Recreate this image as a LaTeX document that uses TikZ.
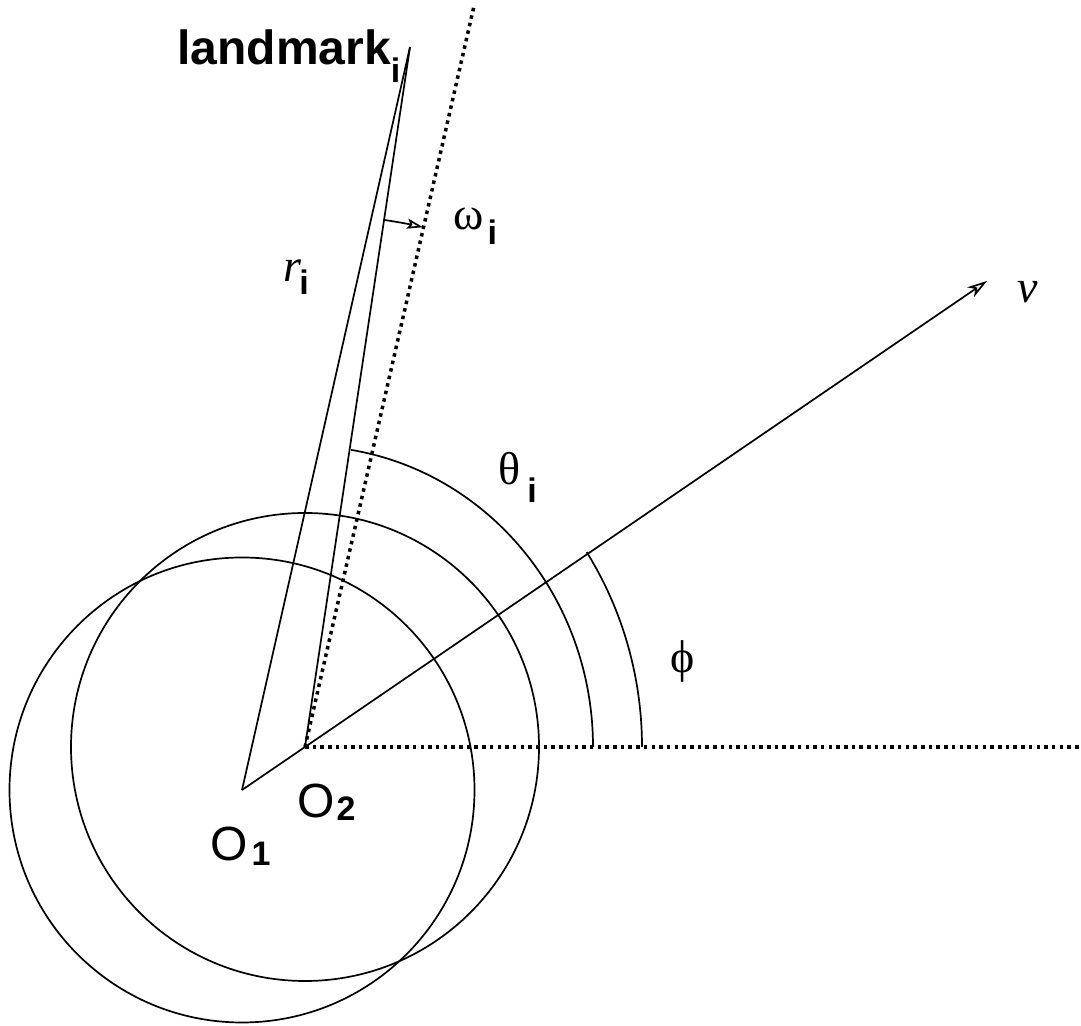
\documentclass[tikz,border=0pt]{standalone}
\usepackage{fontspec}
\setmainfont{Liberation Sans}
\newfontfamily\tmsfont{Liberation Serif}
\usetikzlibrary{arrows.meta}

\newcommand{\lsub}[2]{\raisebox{-#1}{\normalfont\fontsize{17pt}{20pt}\selectfont\bfseries #2}}

\begin{document}
\begin{tikzpicture}[
	x=0.5pt, y=0.5pt,
	line/.style={ line width=0.85pt },
	dotline/.style={ line width=1.75pt, dash pattern=on 1.75pt off 2.1pt },
	lbl/.style={ anchor=base west, inner sep=0pt, font=\fontsize{24pt}{28pt}\selectfont },
	glbl/.style={ anchor=base west, inner sep=0pt, font=\fontsize{23pt}{27pt}\selectfont\tmsfont },
	tipv/.style={ -{Stealth[open,length=10pt,width=6pt,inset=3pt]} },
	tipw/.style={ -{Stealth[open,length=8pt,width=5pt,inset=1.5pt]} }
]
\useasboundingbox (0,0) rectangle (1081,1026);

\coordinate (oone) at (242,236);
\coordinate (otwo) at (305,279);
\coordinate (mark) at (410,979);
\coordinate (dotend) at (474,1020);
\coordinate (hend) at (1081,279);
\coordinate (vend) at (987,745);

\draw[line] (oone) circle [radius=232.5];
\draw[line] (otwo) circle [radius=234];

\draw[line] (oone) -- (mark);
\draw[line] (otwo) -- (mark);
\draw[line] (oone) -- (otwo);
\draw[dotline] (otwo) -- (dotend);
\draw[dotline] (otwo) -- (hend);
\draw[line,tipv] (otwo) -- (vend);

\draw[line,tipw] (otwo) ++(81.47:533) arc [start angle=81.47, end angle=77.2, radius=533];
\draw[line] (otwo) ++(80.8:288 and 301) arc [start angle=80.8, end angle=0, x radius=288, y radius=301];
\draw[line] (otwo) ++(33.3:337 and 355) arc [start angle=33.3, end angle=0, x radius=337, y radius=355];

\node at (177,961) (marklbl) [lbl] {\bfseries landmark\lsub{9pt}{i}};
\node at (283,744) (rlbl) [glbl] {\itshape r\kern-1pt\lsub{6.5pt}{i}};
\node at (453,796) (wlbl) [glbl] {ω\kern2pt\lsub{7.5pt}{i}};
\node at (498,541) (tlbl) [glbl] {θ\kern3.5pt\lsub{9pt}{i}};
\node at (670,353) (plbl) [glbl] {ϕ};
\node at (1017,723) (vlbl) [glbl] {\itshape v};
\node at (297,208) (otwolbl) [lbl] {O\kern1pt\lsub{1.5pt}{2}};
\node at (210,165) (oonelbl) [lbl] {O\kern2pt\lsub{2.5pt}{1}};

\end{tikzpicture}
\end{document}
